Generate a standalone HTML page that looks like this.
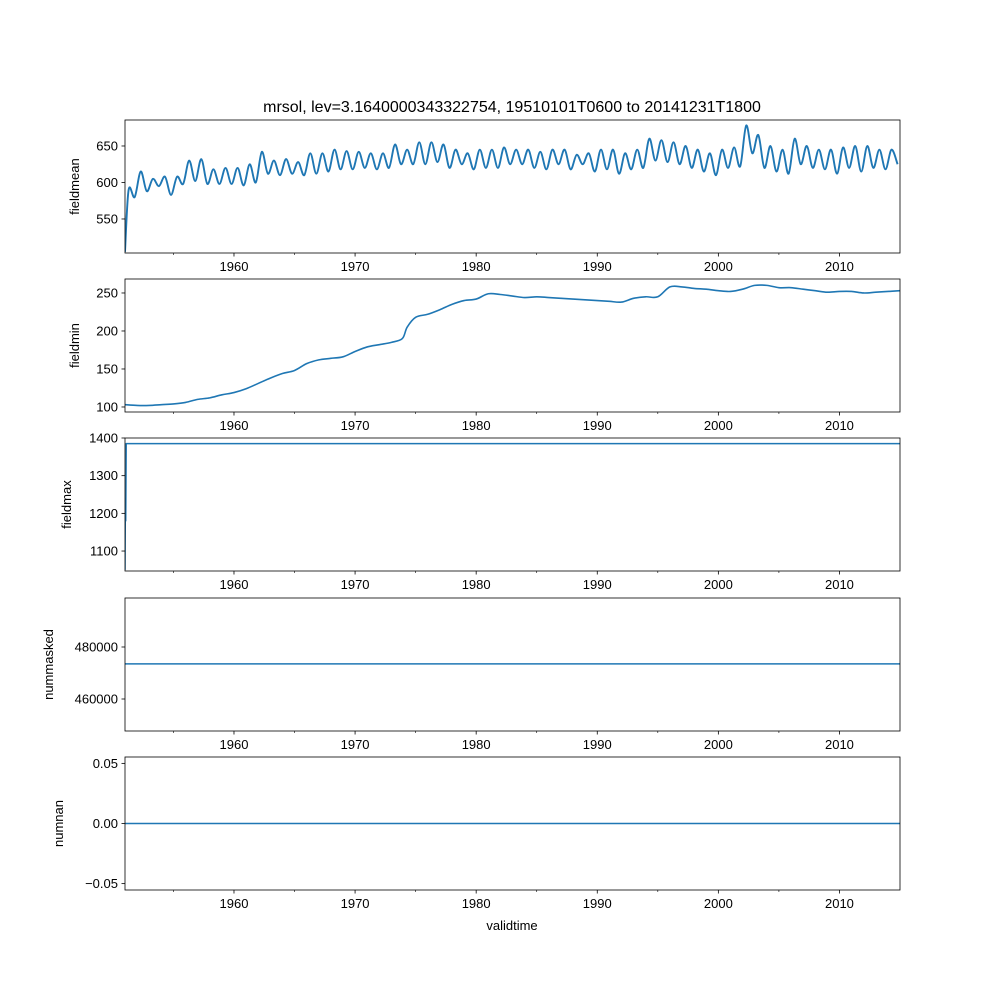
<!DOCTYPE html>
<html><head><meta charset="utf-8"><style>
html,body{margin:0;padding:0;background:#fff;}
svg text{font-family:"Liberation Sans","DejaVu Sans",sans-serif;fill:#000;}
</style></head><body>
<svg id="chart" width="1000" height="1000" xmlns="http://www.w3.org/2000/svg"></svg>
<script>
const meanYears=[1951,1952,1953,1954,1955,1956,1957,1958,1959,1960,1961,1962,1963,1964,1965,1966,1967,1968,1969,1970,1971,1972,1973,1974,1975,1976,1977,1978,1979,1980,1981,1982,1983,1984,1985,1986,1987,1988,1989,1990,1991,1992,1993,1994,1995,1996,1997,1998,1999,2000,2001,2002,2003,2004,2005,2006,2007,2008,2009,2010,2011,2012,2013,2014];
const meanPeaks=[590,615,605,608,608,630,632,618,620,620,625,642,630,632,628,640,640,645,643,642,640,640,652,645,655,655,652,645,640,645,645,648,645,645,642,645,645,638,640,645,645,640,645,660,658,655,650,645,640,645,648,678,665,650,645,660,650,645,645,648,650,650,645,645];
const meanTroughs=[580,588,595,583,598,602,598,598,598,596,600,612,610,612,610,612,615,618,618,620,618,620,625,625,625,628,620,625,618,620,620,625,625,620,618,625,618,625,615,618,612,618,620,630,628,625,620,615,610,620,622,640,620,615,612,625,620,618,612,620,615,620,618,625];
const minYears=[1951,1952,1953,1954,1955,1956,1957,1958,1959,1960,1961,1962,1963,1964,1965,1966,1967,1968,1969,1970,1971,1972,1973,1973.9,1974.3,1975,1976,1977,1978,1979,1980,1981,1982,1983,1984,1985,1986,1987,1988,1989,1990,1991,1992,1993,1994,1995,1996,1997,1998,1999,2000,2001,2002,2003,2004,2005,2006,2007,2008,2009,2010,2011,2012,2013,2014,2015];
const minValues=[103,102,102,103,104,106,110,112,116,119,124,131,138,144,148,157,162,164,166,173,179,182,185,190,205,218,222,228,235,240,242,249,248,246,244,245,244,243,242,241,240,239,238,243,245,245,258,258,256,255,253,252,255,260,260,257,257,255,253,251,252,252,250,251,252,253];
const maxYears=[1951.0,1951.03,1951.06,1951.1,2015];
const maxValues=[1050,1240,1180,1385,1385];
const maskYears=[1951,2015];
const maskValues=[473500,473500];
const nanYears=[1951,2015];
const nanValues=[0,0];
const xTicks=[1960,1970,1980,1990,2000,2010];
const xMinor=[1955,1965,1975,1985,1995,2005];

const svg=document.getElementById('chart');
const NS='http://www.w3.org/2000/svg';
function mk(tag,attrs,parent){const e=document.createElementNS(NS,tag);for(const k in attrs)e.setAttribute(k,attrs[k]);(parent||svg).appendChild(e);return e;}
const X0=125,X1=900,T0=1951,T1=2015;
const xs=t=>X0+(t-T0)/(T1-T0)*(X1-X0);

const panels=[
 {name:'fieldmean',top:120,bot:253,lo:503.4,hi:685.6,ticks:[550,600,650],lab:v=>String(v),smooth:true,sw:1.9},
 {name:'fieldmin',top:279,bot:412,lo:93.4,hi:268.4,ticks:[100,150,200,250],lab:v=>String(v),smooth:true,sw:1.6},
 {name:'fieldmax',top:438,bot:571,lo:1047,hi:1400,ticks:[1100,1200,1300,1400],lab:v=>String(v),sw:1.5},
 {name:'nummasked',top:598,bot:731,lo:447692,hi:498846,ticks:[460000,480000],lab:v=>String(v),sw:1.5},
 {name:'numnan',top:757,bot:890,lo:-0.0553,hi:0.0553,ticks:[-0.05,0,0.05],lab:v=>v.toFixed(2).replace('-','\u2212'),sw:1.5}
];
const meanT=[1951.0],meanV=[505];
meanYears.forEach((y,i)=>{meanT.push(y+0.3);meanV.push(meanPeaks[i]);meanT.push(y+0.8);meanV.push(meanTroughs[i]);});
const series=[[meanT,meanV],[minYears,minValues],[maxYears,maxValues],[maskYears,maskValues],[nanYears,nanValues]];

function pathFor(P,smooth){
  if(!smooth||P.length<3)return P.map((p,i)=>(i?'L':'M')+p[0].toFixed(2)+','+p[1].toFixed(2)).join('');
  let d='M'+P[0][0].toFixed(2)+','+P[0][1].toFixed(2);
  for(let i=0;i<P.length-1;i++){
    const p0=P[Math.max(0,i-1)],p1=P[i],p2=P[i+1],p3=P[Math.min(P.length-1,i+2)];
    const c1=[p1[0]+(p2[0]-p0[0])/6,p1[1]+(p2[1]-p0[1])/6];
    const c2=[p2[0]-(p3[0]-p1[0])/6,p2[1]-(p3[1]-p1[1])/6];
    d+='C'+c1.map(v=>v.toFixed(2)).join(',')+' '+c2.map(v=>v.toFixed(2)).join(',')+' '+p2.map(v=>v.toFixed(2)).join(',');
  }
  return d;
}

panels.forEach((p,pi)=>{
  const g=mk('g',{});
  
  
  const ys=v=>p.bot-(v-p.lo)/(p.hi-p.lo)*(p.bot-p.top);
  const [T,V]=series[pi];
  const P=T.map((t,i)=>[xs(Math.min(Math.max(t,T0),T1)),ys(V[i])]);
  const cp=mk('clipPath',{id:'c'+pi},g);mk('rect',{x:X0,y:p.top,width:X1-X0,height:p.bot-p.top},cp);
  const line=mk('path',{d:pathFor(P,p.smooth),fill:'none',stroke:'#1f77b4','stroke-width':p.sw,'clip-path':'url(#c'+pi+')','stroke-linejoin':'round'},g);
  
  
  const fr=mk('rect',{x:X0,y:p.top,width:X1-X0,height:p.bot-p.top,fill:'none',stroke:'#000','stroke-width':0.8},g);
  
  
  p.ticks.forEach(v=>{const y=ys(v);mk('line',{x1:X0-3.5,x2:X0,y1:y,y2:y,stroke:'#000','stroke-width':0.8},g);
    const t=mk('text',{x:X0-7,y:y+4.5,'text-anchor':'end','font-size':13},g);t.textContent=p.lab(v);
    
    });
  xTicks.forEach(v=>{const x=xs(v);mk('line',{x1:x,x2:x,y1:p.bot,y2:p.bot+3.5,stroke:'#000','stroke-width':0.8},g);
    const t=mk('text',{x:x,y:p.bot+18,'text-anchor':'middle','font-size':13},g);t.textContent=v;
    
    });
  xMinor.forEach(v=>{const x=xs(v);mk('line',{x1:x,x2:x,y1:p.bot,y2:p.bot+2,stroke:'#000','stroke-width':0.6},g);});
  const lab=mk('text',{x:0,y:0,'text-anchor':'middle','font-size':13,transform:'translate('+(pi===3?53:pi===2?71:pi===4?63:79)+','+((p.top+p.bot)/2)+') rotate(-90)'},g);
  lab.textContent=p.name;
  
  
});
const title=mk('text',{x:512,y:112,'text-anchor':'middle','font-size':16});
title.textContent='mrsol, lev=3.1640000343322754, 19510101T0600 to 20141231T1800';


const xl=mk('text',{x:512,y:930,'text-anchor':'middle','font-size':13});
xl.textContent='validtime';


</script>
</body></html>
